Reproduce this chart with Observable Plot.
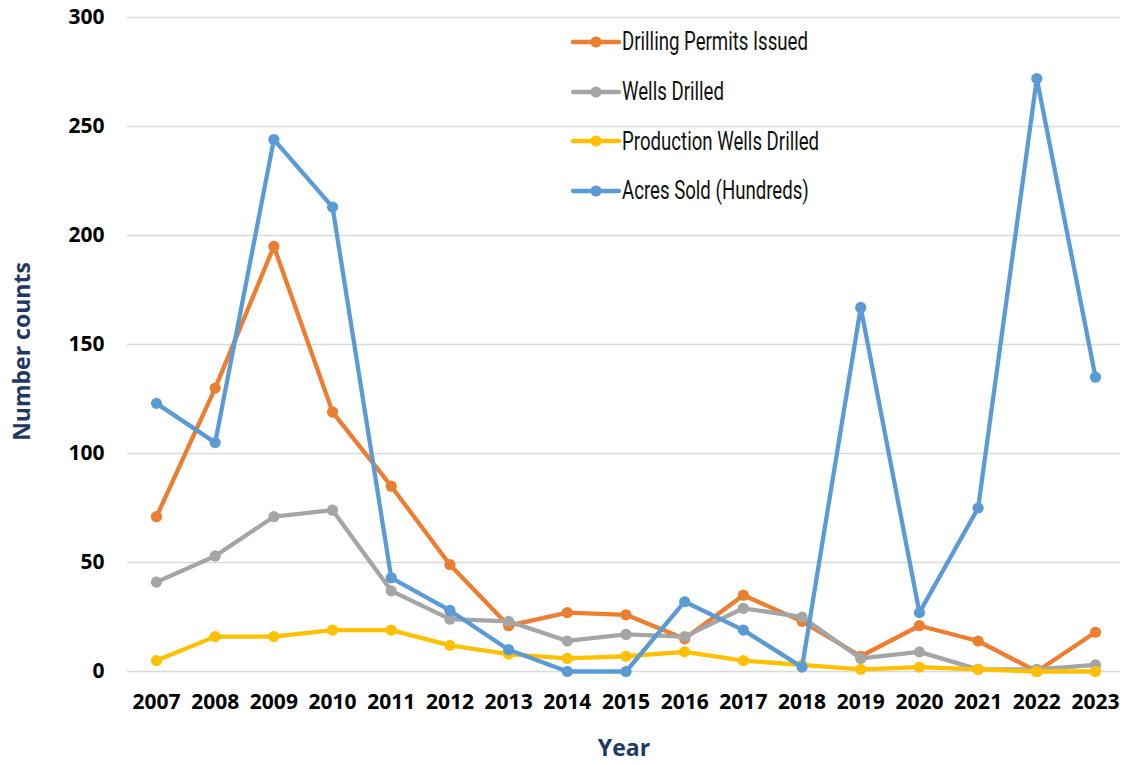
<!DOCTYPE html>
<html>
<head>
<meta charset="utf-8">
<script src="https://cdn.jsdelivr.net/npm/d3@7"></script>
<script src="https://cdn.jsdelivr.net/npm/@observablehq/plot@0.6"></script>
<style>
  body { margin: 0; background: #fff; }
  #chart { position: relative; width: 1126px; height: 765px; }
  #legend { position: absolute; left: 571px; top: 17px; }
  #legend .row { display: flex; align-items: center; height: 49.7px; }
  #legend .label { display: inline-block; font-family: "Roboto", sans-serif; font-size: 25px; line-height: 1; color: #111; margin-left: 1px; transform-origin: left center; white-space: nowrap; }
</style>
</head>
<body>
<div id="chart"><div id="legend"></div></div>
<script>
// Yearly counts, 2007–2023
const years = [2007, 2008, 2009, 2010, 2011, 2012, 2013, 2014, 2015, 2016, 2017, 2018, 2019, 2020, 2021, 2022, 2023];
const permitsIssued   = [71, 130, 195, 119, 85, 49, 21, 27, 26, 15, 35, 23, 7, 21, 14, 0, 18];
const wellsDrilled    = [41, 53, 71, 74, 37, 24, 23, 14, 17, 16, 29, 25, 6, 9, 1, 1, 3];
const productionWells = [5, 16, 16, 19, 19, 12, 8, 6, 7, 9, 5, 3, 1, 2, 1, 0, 0];
const acresSold       = [123, 105, 244, 213, 43, 28, 10, 0, 0, 32, 19, 2, 167, 27, 75, 272, 135];

const seriesNames = ["Drilling Permits Issued", "Wells Drilled", "Production Wells Drilled", "Acres Sold (Hundreds)"];
const seriesValues = [permitsIssued, wellsDrilled, productionWells, acresSold];
const seriesColors = ["#ED7D31", "#A5A5A5", "#FFC000", "#5B9BD5"];
const yTicks = [0, 50, 100, 150, 200, 250, 300];

// Long-format rows, one table per series
const tables = seriesNames.map((name, i) =>
  years.map((year, j) => ({ year, value: seriesValues[i][j], series: name }))
);

const navy = "#1F3864";

// Each series draws its line then its markers, so later series sit on top
const seriesMarks = tables.flatMap((rows) => [
  Plot.lineY(rows, { x: "year", y: "value", stroke: "series", strokeWidth: 4.3, strokeLinejoin: "round", strokeLinecap: "round" }),
  Plot.dot(rows, { x: "year", y: "value", fill: "series", r: 5.6, stroke: "none" })
]);

const chart = Plot.plot({
  width: 1126,
  height: 765,
  marginLeft: 127,
  marginRight: 6,
  marginTop: 17,
  marginBottom: 94,
  style: { fontFamily: "'Open Sans', sans-serif", background: "transparent", overflow: "visible" },
  x: { type: "point", domain: years, padding: 0, round: false, insetLeft: 29, insetRight: 25, label: null },
  y: { domain: [0, 300], label: null },
  color: { domain: seriesNames, range: seriesColors },
  marks: [
    Plot.ruleY(yTicks, { stroke: "#D9D9D9", strokeWidth: 1.6 }),
    Plot.axisY(yTicks, { tickSize: 0, tickPadding: 23, fontSize: 21, fontWeight: 700, fill: "#000", label: null }),
    Plot.axisX(years, { tickSize: 0, tickPadding: 23, fontSize: 21, fontWeight: 700, fill: "#000", tickFormat: (d) => String(d), label: null }),
    ...seriesMarks,
    Plot.text(["Number counts"], { frameAnchor: "left", dx: -105, dy: 7, rotate: -90, fontSize: 23, fontWeight: 700, fill: navy, textAnchor: "middle", lineAnchor: "middle" }),
    Plot.text(["Year"], { frameAnchor: "bottom", dy: 77, fontSize: 23, fontWeight: 700, fill: navy, textAnchor: "middle", lineAnchor: "middle" })
  ]
});

const container = document.getElementById("chart");
container.insertBefore(chart, container.firstChild);

// Legend drawn as HTML rows over the plot
const legend = d3.select("#legend");
const labels = [];
seriesNames.forEach((name, i) => {
  const row = legend.append("div").attr("class", "row");
  const sw = row.append("svg").attr("width", 50).attr("height", 14);
  sw.append("line").attr("x1", 2).attr("x2", 48).attr("y1", 7).attr("y2", 7)
    .attr("stroke", seriesColors[i]).attr("stroke-width", 4.3).attr("stroke-linecap", "round");
  sw.append("circle").attr("cx", 25).attr("cy", 7).attr("r", 5.6).attr("fill", seriesColors[i]);
  labels.push(row.append("span").attr("class", "label").text(name).node());
});

// Narrow the legend type so "Drilling Permits Issued" spans about 186px
const widest = labels[0].getBoundingClientRect().width;
const squeeze = widest > 0 ? 186 / widest : 1;
labels.forEach((el) => { el.style.transform = `scaleX(${squeeze})`; });
</script>
</body>
</html>
